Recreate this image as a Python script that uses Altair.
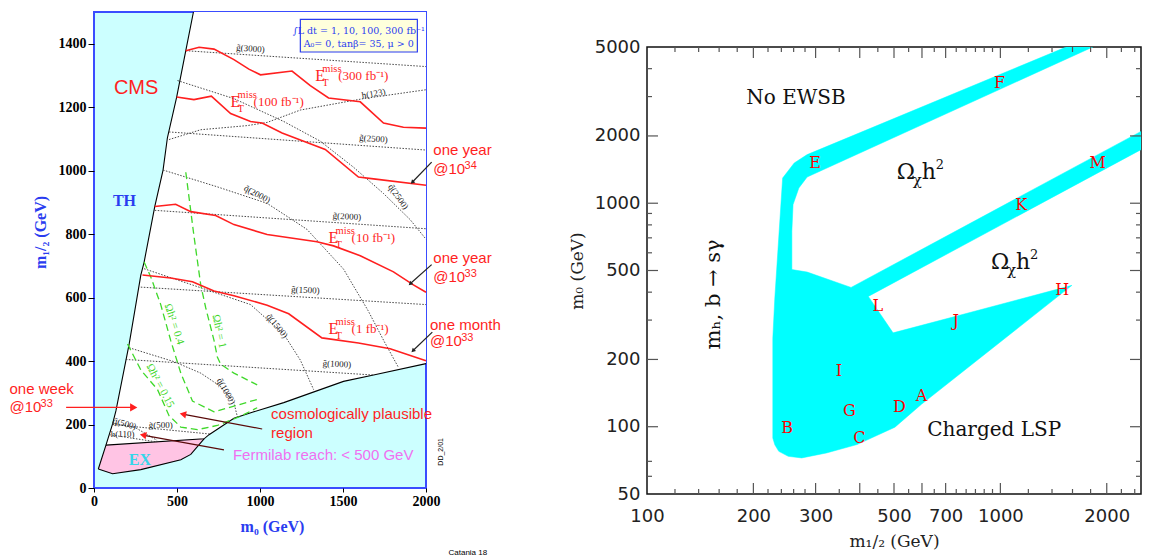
import altair as alt
import pandas as pd

# ===================== LEFT PANEL DATA (m0 vs m1/2, CMS reach) =====================
white_x = [72, 112, 132, 212, 282, 302, 366, 416, 442, 498, 553, 599, 663, 693, 843, 963, 1143, 1503, 1684, 2000]
white_lo = [135, 136, 137, 140, 142, 143, 145, 147, 148, 150, 152, 153, 155, 168, 220, 240, 269, 336, 356, 392]
white_hi = [135, 202, 243, 454, 671, 712, 887, 1002, 1103, 1232, 1378, 1500, 1500, 1500, 1500, 1500, 1500, 1500, 1500, 1500]

pink_x = [26, 72, 112, 282, 523, 583, 663]
pink_lo = [60, 52, 45, 58, 89, 106, 155]
pink_hi = [60, 135, 136, 142, 151, 153, 155]

th_x = [599, 553, 498, 442, 416, 366, 302, 282, 212, 132, 112, 72, 26]
th_y = [1500, 1378, 1232, 1103, 1002, 887, 712, 671, 454, 243, 202, 135, 60]
lb_x = [72, 663, 693, 843, 963, 1143, 1503, 1684, 2000]
lb_y = [135, 155, 168, 220, 240, 269, 336, 356, 392]
pb_x = [26, 112, 282, 523, 583, 663]
pb_y = [60, 45, 58, 89, 106, 155]

et300_x = [553, 633, 723, 843, 933, 1003, 1193, 1303, 1413, 1604, 1744, 1864, 2000]
et300_y = [1378, 1389, 1383, 1350, 1320, 1302, 1314, 1268, 1229, 1217, 1150, 1137, 1134]
et100_x = [498, 602, 707, 823, 943, 1013, 1133, 1263, 1393, 1593, 1684, 2000]
et100_y = [1232, 1224, 1235, 1180, 1155, 1150, 1119, 1093, 1067, 980, 974, 954]
et10_x = [366, 492, 583, 733, 843, 1043, 1343, 1443, 1604, 1804, 1924, 2000]
et10_y = [887, 894, 871, 859, 830, 799, 776, 763, 732, 681, 640, 617]
et1_x = [292, 462, 593, 723, 843, 1043, 1173, 1373, 1593, 1784, 2000]
et1_y = [671, 662, 650, 621, 606, 576, 549, 473, 457, 439, 401]

om1_x = [553, 602, 643, 673, 723, 743, 763, 843, 983]
om1_y = [995, 795, 640, 568, 465, 413, 390, 362, 325]
om04_x = [302, 342, 402, 462, 523, 593, 723, 843, 983]
om04_y = [712, 665, 578, 465, 362, 274, 240, 258, 279]
om015_x = [202, 282, 383, 452, 523, 623, 743, 883, 983]
om015_y = [454, 372, 310, 228, 192, 184, 197, 226, 253]

dotted = {
    "g3000": ([553, 2000], [1378, 1328]),
    "h123": ([452, 643, 923, 1043, 1243, 1623, 2000], [1098, 1129, 1142, 1152, 1191, 1227, 1255]),
    "g2500": ([452, 2000], [1122, 1065]),
    "q2500": ([503, 843, 1143, 1363, 1563, 1744, 1904, 2000], [1284, 1227, 1155, 1093, 1011, 928, 846, 784]),
    "q2000": ([416, 743, 1043, 1283, 1503, 1650, 1750, 1834], [1002, 949, 897, 815, 690, 560, 460, 380]),
    "g2000": ([366, 2000], [875, 817]),
    "q1500": ([302, 643, 943, 1143, 1243, 1323], [691, 631, 578, 485, 403, 310]),
    "g1500": ([282, 2000], [633, 578]),
    "q1000": ([212, 483, 643, 763, 843, 867], [442, 398, 362, 320, 269, 217]),
    "g1000": ([192, 1684], [405, 356]),
    "q500": ([112, 250, 380], [205, 190, 150]),
    "g500": ([112, 700], [200, 170]),
    "h110": ([92, 380], [168, 145]),
}
dot_lab_text = ["g̃(3000)", "h(123)", "g̃(2500)", "q̃(2500)", "q̃(2000)", "g̃(2000)", "g̃(1500)",
                "q̃(1500)", "g̃(1000)", "q̃(1000)", "q̃(500)", "g̃(500)", "h(110)"]
dot_lab_x = [943, 1684, 1684, 1834, 983, 1524, 1273, 1103, 1463, 797, 185, 402, 172]
dot_lab_y = [1385, 1243, 1101, 918, 926, 856, 624, 511, 391, 305, 203, 199, 169]
dot_lab_ang = [4, 350, 4, 55, 28, 3, 3, 50, 3, 60, 15, 0, 0]

green_lab_text = ["Ωh² = 0.4", "Ωh² = 1", "Ωh² = 0.15"]
green_lab_x = [482, 753, 398]
green_lab_y = [516, 494, 322]
green_lab_ang = [72, 78, 62]

et_lab_lumi = ["(300 fb⁻¹)", "(100 fb⁻¹)", "(10 fb⁻¹)", "(1 fb⁻¹)"]
et_lab_x = [1333, 823, 1413, 1413]
et_lab_y = [1281, 1200, 772, 485]

sans_text = ["CMS", "one year", "@10", "34", "one year", "@10", "33", "one month", "@10", "33",
             "one week", "@10", "33", "cosmologically plausible", "region", "Fermilab reach: < 500 GeV"]
sans_x = [120, 2044, 2044, 2232, 2044, 2044, 2232, 2024, 2024, 2212, -509, -509, -322, 1067, 1067, 837]
sans_y = [1243, 1049, 991, 1006, 709, 650, 666, 498, 446, 463, 295, 238, 254, 217, 159, 89]
sans_fs = [20, 15, 15, 11, 15, 15, 11, 15, 15, 11, 15, 15, 11, 15, 15, 15]
sans_col = ["#ff1f1f"] * 15 + ["#f070f0"]

arrow_x1 = [2034, 2034, 2038, -168, 1013, 783]
arrow_y1 = [1027, 704, 491, 254, 186, 120]
arrow_x2 = [1920, 1908, 1924, 232, 542, 302]
arrow_y2 = [965, 645, 434, 254, 232, 166]
arrow_shaft = ["#222222", "#222222", "#222222", "#ff1f1f", "#5a0a0a", "#5a0a0a"]
arrow_head = ["#222222", "#222222", "#222222", "#ff1f1f", "#ff1f1f", "#ff1f1f"]
arrow_ang = [225, 228, 226, 90, 281, 280]
arrow_hs = [22, 22, 22, 70, 55, 55]

box_x, box_x2, box_y, box_y2 = [1243], [1948], [1374], [1477]
box_text = ["∫L dt = 1, 10, 100, 300 fb⁻¹", "A₀= 0, tanβ= 35, μ > 0"]
box_tx = [1595, 1595]
box_ty = [1440, 1399]

# ===================== RIGHT PANEL DATA (m1/2 vs m0, benchmarks) =====================
poly_x = [274, 322, 393, 503, 598, 1594, 748, 497, 423, 2502, 2502, 378, 284, 257, 257, 259, 269, 284,
          1826, 1535, 284, 261, 242, 230, 227, 227, 230, 236, 251]
poly_y = [72.5, 76.3, 83.2, 99.5, 126, 429, 312, 263, 383, 1738, 2097, 420, 492, 505, 749, 986, 1170, 1310,
          5000, 5000, 1650, 1514, 1296, 377, 249, 89, 83, 77.6, 73.7]

bench = ["E", "F", "K", "M", "H", "J", "L", "I", "G", "D", "A", "C", "B"]
bench_x = [299, 995, 1146, 1886, 1497, 748, 450, 349, 374, 518, 598, 399, 249]
bench_y = [1513, 3452, 986, 1513, 411, 296, 346, 178, 118, 123, 137, 89, 99]

x_major = [200, 300, 400, 500, 600, 700, 1000, 2000]
x_minor = [120, 140, 160, 180, 220, 240, 260, 280, 350, 450, 550, 650, 750, 800, 850, 900, 950,
           1200, 1400, 1600, 1800, 2200, 2400]
y_major = [100, 200, 500, 1000, 2000]
y_minor = [60, 70, 300, 400, 600, 700, 800, 900, 3000, 4000]
x_labels = [100, 200, 300, 500, 700, 1000, 2000]
y_labels = [50, 100, 200, 500, 1000, 2000, 5000]

omega_x = [509, 941]
omega_y = [1285, 510]

# ===================== helpers =====================
def pts(named):
    rows = []
    for name, (xs, ys) in named.items():
        for i, (x, y) in enumerate(zip(xs, ys)):
            rows.append({"name": name, "i": i, "x": x, "y": y})
    return pd.DataFrame(rows)

BLUE = "#2a3cf0"
RED = "#ff1f1f"
SERIF = "Liberation Serif"
SANS = "Liberation Sans"
LW, LH = 332, 476

LXS = alt.Scale(domain=[0, 2000], nice=False, zero=False)
LYS = alt.Scale(domain=[0, 1500], nice=False, zero=False)
lx_axis = alt.Axis(values=[0, 500, 1000, 1500, 2000], format="d", title="m₀  (GeV)", grid=False, domain=False,
                   labelFont=SERIF, labelFontWeight="bold", labelFontSize=14, labelColor="black",
                   tickColor="black", tickSize=4, labelPadding=2, labelFlush=False,
                   titleFont=SERIF, titleFontSize=16, titleFontWeight="bold", titleColor=BLUE,
                   titlePadding=10, titleX=178)
ly_axis = alt.Axis(values=[0, 200, 400, 600, 800, 1000, 1200, 1400], format="d", title="m₁/₂ (GeV)",
                   grid=False, domain=False, labelFont=SERIF, labelFontWeight="bold", labelFontSize=14,
                   labelColor="black", tickColor="black", tickSize=6, labelPadding=2, labelFlush=False,
                   titleFont=SERIF, titleFontSize=16, titleFontWeight="bold", titleColor=BLUE,
                   titlePadding=10, titleY=220)

def LX(f="x"):
    return alt.X(f"{f}:Q", scale=LXS, axis=lx_axis)

def LY(f="y"):
    return alt.Y(f"{f}:Q", scale=LYS, axis=ly_axis)

def lline(named, color, width, dash=None):
    kw = dict(color=color, strokeWidth=width)
    if dash:
        kw["strokeDash"] = dash
    return alt.Chart(pts(named)).mark_line(**kw).encode(
        x=LX(), y=LY(), detail="name:N", order=alt.Order("i:Q"))

white_df = pd.DataFrame({"x": white_x, "lo": white_lo, "hi": white_hi})
pink_df = pd.DataFrame({"x": pink_x, "lo": pink_lo, "hi": pink_hi})

white = alt.Chart(white_df).mark_area(color="white", opacity=1).encode(
    x=LX(), y=LY("lo"), y2="hi:Q")
pink = alt.Chart(pink_df).mark_area(color="#ffc4e4", opacity=1).encode(
    x=LX(), y=LY("lo"), y2="hi:Q")

borders = lline({"th": (th_x, th_y), "lb": (lb_x, lb_y), "pb": (pb_x, pb_y)}, "black", 1.1)
dots = lline(dotted, "#333333", 0.9, [1.5, 1.5])
greens = lline({"o1": (om1_x, om1_y), "o04": (om04_x, om04_y), "o015": (om015_x, om015_y)},
               "#3fd82a", 1.3, [7, 4])
reds = lline({"e300": (et300_x, et300_y), "e100": (et100_x, et100_y),
              "e10": (et10_x, et10_y), "e1": (et1_x, et1_y)}, RED, 1.6)

dl_df = pd.DataFrame({"t": dot_lab_text, "x": dot_lab_x, "y": dot_lab_y, "a": dot_lab_ang})
dot_labels = alt.Chart(dl_df).mark_text(font=SERIF, fontSize=9, color="#222222").encode(
    x=LX(), y=LY(), text="t:N", angle=alt.Angle("a:Q", scale=None))

gl_df = pd.DataFrame({"t": green_lab_text, "x": green_lab_x, "y": green_lab_y, "a": green_lab_ang})
green_labels = alt.Chart(gl_df).mark_text(font=SERIF, fontSize=11, color="#3fd82a").encode(
    x=LX(), y=LY(), text="t:N", angle=alt.Angle("a:Q", scale=None))

et_df = pd.DataFrame({"t": et_lab_lumi, "x": et_lab_x, "y": et_lab_y})
et_base = alt.Chart(et_df)
et_E = et_base.mark_text(font=SERIF, fontSize=16, color=RED, align="left", baseline="alphabetic",
                         text="E").encode(x=LX(), y=LY())
et_miss = et_base.mark_text(font=SERIF, fontSize=10.5, color=RED, align="left", baseline="alphabetic",
                            text="miss", dx=7, dy=-9).encode(x=LX(), y=LY())
et_T = et_base.mark_text(font=SERIF, fontSize=10.5, color=RED, align="left", baseline="alphabetic",
                         text="T", dx=7, dy=5).encode(x=LX(), y=LY())
et_L = et_base.mark_text(font=SERIF, fontSize=13, color=RED, align="left", baseline="alphabetic",
                         dx=23, dy=-1).encode(x=LX(), y=LY(), text="t:N")

sans_df = pd.DataFrame({"t": sans_text, "x": sans_x, "y": sans_y, "fs": sans_fs, "c": sans_col})
sans_labels = alt.Chart(sans_df).mark_text(font=SANS, align="left", baseline="alphabetic").encode(
    x=LX(), y=LY(), text="t:N", size=alt.Size("fs:Q", scale=None), color=alt.Color("c:N", scale=None))

th_ex = pd.DataFrame({"t": ["TH", "EX"], "x": [114, 210], "y": [890, 74], "c": [BLUE, "#35d6ea"]})
th_ex_labels = alt.Chart(th_ex).mark_text(font=SERIF, fontWeight="bold", fontSize=16, align="left",
                                          baseline="alphabetic").encode(
    x=LX(), y=LY(), text="t:N", color=alt.Color("c:N", scale=None))

arr_df = pd.DataFrame({"x": arrow_x1, "y": arrow_y1, "x2": arrow_x2, "y2": arrow_y2,
                       "sc": arrow_shaft, "hc": arrow_head, "a": arrow_ang, "hs": arrow_hs})
arr_shaft = alt.Chart(arr_df).mark_rule(strokeWidth=1.2).encode(
    x=LX(), y=LY(), x2="x2:Q", y2="y2:Q", color=alt.Color("sc:N", scale=None))
arr_head = alt.Chart(arr_df).mark_point(shape="triangle", filled=True, opacity=1).encode(
    x=LX("x2"), y=LY("y2"), angle=alt.Angle("a:Q", scale=None),
    size=alt.Size("hs:Q", scale=None), color=alt.Color("hc:N", scale=None))

box_df = pd.DataFrame({"x": box_x, "x2": box_x2, "y": box_y, "y2": box_y2})
box = alt.Chart(box_df).mark_rect(fill="#ffffdc", stroke=BLUE, strokeWidth=1.2).encode(
    x=LX(), x2="x2:Q", y=LY(), y2="y2:Q")
box_t_df = pd.DataFrame({"t": box_text, "x": box_tx, "y": box_ty})
box_texts = alt.Chart(box_t_df).mark_text(font="DejaVu Serif", fontSize=9.5, color=BLUE).encode(
    x=LX(), y=LY(), text="t:N")

misc_df = pd.DataFrame({"t": ["DD_2/01", "Catania 18"], "x": [2090, 2252], "y": [114, -204],
                        "a": [270, 0], "fs": [7, 8]})
misc = alt.Chart(misc_df).mark_text(font=SANS, color="black").encode(
    x=LX(), y=LY(), text="t:N", angle=alt.Angle("a:Q", scale=None), size=alt.Size("fs:Q", scale=None))

left = alt.layer(
    white, pink, borders, dots, greens, reds, dot_labels, green_labels,
    et_E, et_miss, et_T, et_L, sans_labels, th_ex_labels, arr_shaft, arr_head, box, box_texts, misc
).properties(width=LW, height=LH,
             view=alt.ViewBackground(fill="#ccffff", stroke="#3a4cff", strokeWidth=2))

# ===================== RIGHT PANEL =====================
RXS = alt.Scale(type="log", domain=[100, 2500], nice=False)
RYS = alt.Scale(type="log", domain=[50, 5000], nice=False)
RFONT = "DejaVu Sans"
rx_axis = alt.Axis(values=x_labels, format="d", title="m₁/₂ (GeV)", grid=False, domain=False, ticks=False,
                   labelFont=RFONT, labelFontSize=18, labelColor="#222222", labelPadding=13,
                   labelFlush=False, titleFont="DejaVu Serif", titleFontSize=17, titleFontWeight="normal",
                   titleColor="#222222", titlePadding=8)
ry_axis = alt.Axis(values=y_labels, format="d", title="m₀ (GeV)", grid=False, domain=False, ticks=False,
                   labelFont=RFONT, labelFontSize=18, labelColor="#222222", labelPadding=7,
                   labelFlush=False, titleFont="DejaVu Serif", titleFontSize=17, titleFontWeight="normal",
                   titleColor="#222222", titlePadding=8)

def RX(f="x"):
    return alt.X(f"{f}:Q", scale=RXS, axis=rx_axis)

def RY(f="y"):
    return alt.Y(f"{f}:Q", scale=RYS, axis=ry_axis)

RW, RH = 494, 447

poly_df = pd.DataFrame({"x": poly_x, "y": poly_y, "i": list(range(len(poly_x)))})
poly = alt.Chart(poly_df).mark_line(interpolate="linear-closed", fill="#00ffff", stroke="#00ffff",
                                    strokeWidth=0.5, clip=True).encode(
    x=RX(), y=RY(), order=alt.Order("i:Q"))

tick_layers = []
for vals, L in ((x_major, 11), (x_minor, 5)):
    tdf = pd.DataFrame({"x": vals})
    tick_layers.append(alt.Chart(tdf).mark_rule(color="#555555", strokeWidth=1.2).encode(
        x=RX(), y=alt.value(RH), y2=alt.value(RH - L)))
    tick_layers.append(alt.Chart(tdf).mark_rule(color="#555555", strokeWidth=1.2).encode(
        x=RX(), y=alt.value(0), y2=alt.value(L)))
for vals, L in ((y_major, 11), (y_minor, 5)):
    tdf = pd.DataFrame({"y": vals})
    tick_layers.append(alt.Chart(tdf).mark_rule(color="#555555", strokeWidth=1.2).encode(
        y=RY(), x=alt.value(0), x2=alt.value(L)))
    tick_layers.append(alt.Chart(tdf).mark_rule(color="#555555", strokeWidth=1.2).encode(
        y=RY(), x=alt.value(RW), x2=alt.value(RW - L)))

bench_df = pd.DataFrame({"t": bench, "x": bench_x, "y": bench_y})
bench_labels = alt.Chart(bench_df).mark_text(font="DejaVu Serif", fontSize=16, color="#ff0000").encode(
    x=RX(), y=RY(), text="t:N")

reg_df = pd.DataFrame({"t": ["No EWSB", "Charged LSP"], "x": [191, 621], "y": [2957, 97]})
reg_labels = alt.Chart(reg_df).mark_text(font="DejaVu Serif", fontSize=20, color="#111111",
                                         align="left", baseline="middle").encode(
    x=RX(), y=RY(), text="t:N")
bsg_df = pd.DataFrame({"t": ["mₕ,  b → sγ"], "x": [155], "y": [391]})
bsg_label = alt.Chart(bsg_df).mark_text(font="DejaVu Serif", fontSize=21, color="#111111",
                                        angle=270).encode(x=RX(), y=RY(), text="t:N")

om_df = pd.DataFrame({"x": omega_x, "y": omega_y})
om_base = alt.Chart(om_df)
om_layers = [
    om_base.mark_text(font="DejaVu Serif", fontSize=22, color="#111111", align="left",
                      baseline="alphabetic", text="Ω").encode(x=RX(), y=RY()),
    om_base.mark_text(font="DejaVu Serif", fontSize=15, color="#111111", align="left",
                      baseline="alphabetic", text="χ", dx=16, dy=6).encode(x=RX(), y=RY()),
    om_base.mark_text(font="DejaVu Serif", fontSize=22, color="#111111", align="left",
                      baseline="alphabetic", text="h", dx=25).encode(x=RX(), y=RY()),
    om_base.mark_text(font="DejaVu Serif", fontSize=13, color="#111111", align="left",
                      baseline="alphabetic", text="2", dx=39, dy=-10).encode(x=RX(), y=RY()),
]

right = alt.layer(poly, *tick_layers, bench_labels, reg_labels, bsg_label, *om_layers).properties(
    width=RW, height=RH,
    view=alt.ViewBackground(fill="white", stroke="#111111", strokeWidth=1.5))

# empty spacer that lowers the right panel below the left one's top edge
spacer = alt.Chart(pd.DataFrame({"v": [0]})).mark_point(opacity=0, size=1).encode(
    x=alt.value(10), y=alt.value(10)).properties(
    width=RW, height=24, view=alt.ViewBackground(stroke="transparent", fill="transparent"))

right_col = alt.vconcat(spacer, right, spacing=0)

chart = alt.hconcat(left, right_col, spacing=65).properties(padding=0)

chart.save("out.html", embed_options={"renderer": "svg", "actions": False})
